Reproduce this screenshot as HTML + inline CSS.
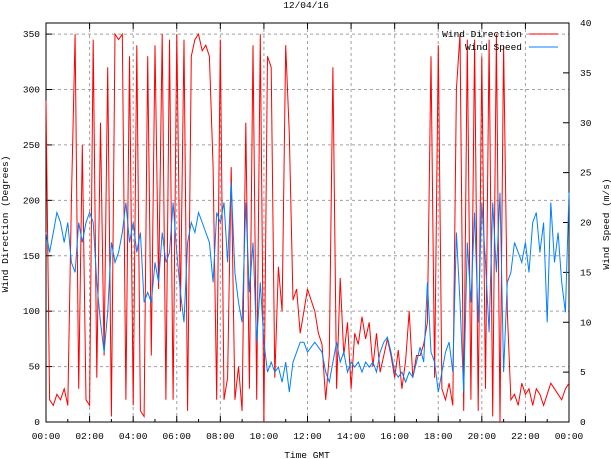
<!DOCTYPE html>
<html><head><meta charset="utf-8"><style>
html,body{margin:0;padding:0;background:#fff;}
svg{display:block;font-family:"Liberation Mono","DejaVu Sans Mono",monospace;font-size:9.5px;}
</style></head><body>
<svg id="chart" width="611" height="459" xmlns="http://www.w3.org/2000/svg">
<text x="306" y="8" text-anchor="middle">12/04/16</text>
<g id="grid"></g>
<g id="axes"></g>
<g id="series"></g>
<text transform="translate(8,224) rotate(-90)" text-anchor="middle">Wind Direction (Degrees)</text>
<text transform="translate(609,224) rotate(-90)" text-anchor="middle">Wind Speed (m/s)</text>
<text x="307" y="458" text-anchor="middle">Time GMT</text>
<g>
<text x="522" y="37" text-anchor="end">Wind Direction</text>
<line x1="529" y1="34" x2="558" y2="34" stroke="#ff0000"/>
<text x="522" y="50" text-anchor="end">Wind Speed</text>
<line x1="529" y1="47" x2="558" y2="47" stroke="#0080ff"/>
</g>
</svg>
<script>
const xTickLabels=["00:00","02:00","04:00","06:00","08:00","10:00","12:00","14:00","16:00","18:00","20:00","22:00","00:00"];
const leftTicks=[0,50,100,150,200,250,300,350];
const rightTicks=[0,5,10,15,20,25,30,35,40];
const stepMinutes=10;
const direction=[290,20,15,25,20,30,15,200,350,30,250,20,15,345,40,270,60,320,5,350,345,350,20,330,15,340,10,5,330,60,340,120,350,20,345,20,350,100,345,10,330,345,350,335,340,330,230,20,345,20,40,230,20,50,10,270,30,340,20,350,0,330,320,40,140,100,340,260,110,120,80,100,120,110,100,80,70,20,60,320,30,130,60,90,30,80,70,95,75,90,50,80,45,60,75,60,40,65,30,55,100,40,60,60,70,90,330,40,340,30,20,35,15,300,350,10,345,20,345,10,330,30,345,5,350,0,340,100,20,25,15,35,25,30,15,30,25,15,25,35,30,25,20,30,35];
const speed=[19,17,19,21,20,18,20,16,15,20,18,20,21,20,14,10,7,11,18,16,17,19,22,18,20,17,19,12,13,12,16,14,19,16,17,22,17,13,10,18,20,19,21,20,19,18,14,21,20,22,16,24,15,12,10,22,13,18,8,14,8,5,6,5,5.5,4,6,3,6,7,8,8,7,7.5,8,7.5,7,5,4,6,8,6,7,5,6,5.5,6,5,6,5.5,6,5,7,8,8.5,7,5,4.5,5,4,5,4.5,6,7.5,6,14,7,6,3,5,7,8,5,19,12,3,18,12,21,10,22,16,9,22,15,23,5,14,15,18,17,16,18,15,20,21,17,20,10,22,16,19,14,11,23];
const L=46,R=569,T=23,B=422;
const NS="http://www.w3.org/2000/svg";
function xs(min){return L+(min/1440)*(R-L);}
function yl(d){return B-(d/360)*(B-T);}
function yr(s){return B-(s/40)*(B-T);}
function mk(tag,attrs,parent){const e=document.createElementNS(NS,tag);for(const k in attrs)e.setAttribute(k,attrs[k]);parent.appendChild(e);return e;}
const grid=document.getElementById('grid'),axes=document.getElementById('axes'),series=document.getElementById('series');
xTickLabels.forEach((lab,i)=>{
  const x=xs(i*120);
  if(i>0&&i<xTickLabels.length-1){const g=mk('line',{x1:x,y1:T,x2:x,y2:B,stroke:'#a0a0a0','stroke-dasharray':'3,3'},grid);
  
  }
  const t=mk('line',{x1:x,y1:B,x2:x,y2:B-6,stroke:'#000'},axes);
  
  
  const t2=mk('line',{x1:x,y1:T,x2:x,y2:T+6,stroke:'#000'},axes);
  
  
  if(i<xTickLabels.length-1){const xm=xs(i*120+60);
  const m=mk('line',{x1:xm,y1:B,x2:xm,y2:B-3,stroke:'#000'},axes);
  
  }
  const tx=mk('text',{x:x,y:439,'text-anchor':'middle'},axes);tx.textContent=lab;
  
  
});
leftTicks.forEach(v=>{
  const y=yl(v);
  if(v>0){const g=mk('line',{x1:L,y1:y,x2:R,y2:y,stroke:'#a0a0a0','stroke-dasharray':'3,3'},grid);
  
  }
  const t=mk('line',{x1:L,y1:y,x2:L+6,y2:y,stroke:'#000'},axes);
  
  
  const tx=mk('text',{x:40,y:y+3,'text-anchor':'end'},axes);tx.textContent=v;
  
  
});
rightTicks.forEach(v=>{
  const y=yr(v);
  const t=mk('line',{x1:R-6,y1:y,x2:R,y2:y,stroke:'#000'},axes);
  
  
  const tx=mk('text',{x:580,y:y+3,'text-anchor':'start'},axes);tx.textContent=v;
  
  
});
const fr=mk('rect',{x:L,y:T,width:R-L,height:B-T,fill:'none',stroke:'#000'},axes);


const pd=direction.map((d,i)=>xs(i*stepMinutes).toFixed(1)+','+yl(d).toFixed(1)).join(' ');
const p1=mk('polyline',{points:pd,fill:'none',stroke:'#ff0000','stroke-width':1},series);


const ps=speed.map((s,i)=>xs(i*stepMinutes).toFixed(1)+','+yr(s).toFixed(1)).join(' ');
const p2=mk('polyline',{points:ps,fill:'none',stroke:'#0080ff','stroke-width':1},series);


</script>
</body></html>
